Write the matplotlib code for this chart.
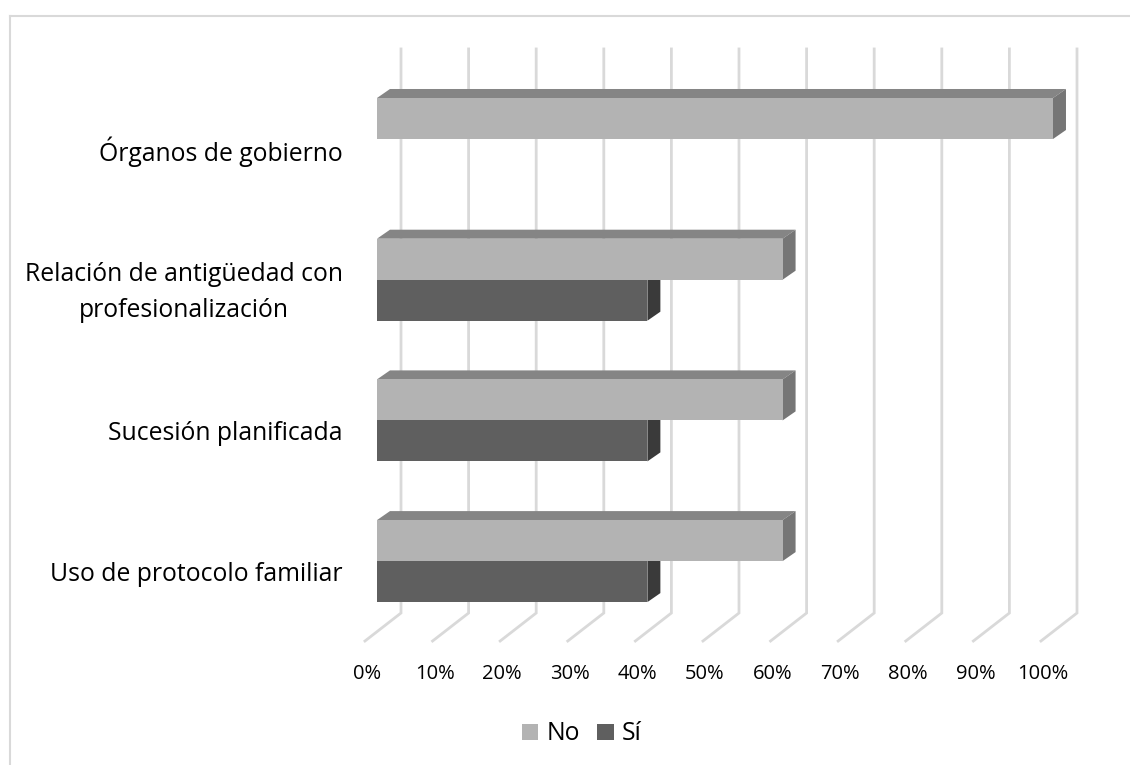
import matplotlib.pyplot as plt
from matplotlib.patches import Polygon, Patch
from matplotlib.lines import Line2D

categories = ['Órganos de gobierno',
              'Relación de antigüedad con\nprofesionalización',
              'Sucesión planificada',
              'Uso de protocolo familiar']
no_values = [100, 60, 60, 60]
si_values = [0, 40, 40, 40]
ticks = [0, 10, 20, 30, 40, 50, 60, 70, 80, 90, 100]

# faces: front, top, side
no_colors = ('#b3b3b3', '#858585', '#767676')
si_colors = ('#5f5f5f', '#4a4a4a', '#3a3a3a')
grid_color = '#d9d9d9'

plt.rcParams['font.family'] = ['Open Sans', 'DejaVu Sans']
fs_tick = 14.5
fs_label = 17.8

fig = plt.figure(figsize=(11.3, 7.65), dpi=100)
ax = fig.add_axes([0, 0, 1, 1])
ax.set_xlim(-377 / 6.76, (1130 - 377) / 6.76)
ax.set_ylim((765 - 139) / 140.7, -139 / 140.7)
ax.axis('off')

bh = 0.2914          # bar thickness in category units
bdx, bdy = 1.92, -0.064   # bar depth
wall_dx = 3.55       # back wall offset in x
wall_top, wall_bot, floor_front = -0.64, 3.369, 3.568
floor_dx = -1.78

# back wall and floor grid
for t in ticks:
    xb = t + wall_dx
    xf = t + floor_dx
    ax.plot([xb, xb, xf], [wall_top, wall_bot, floor_front], color=grid_color,
            lw=2, solid_joinstyle='miter', zorder=1)
    ax.text(xf + 0.3, 3.805, str(t) + '%', ha='center', va='center', fontsize=fs_tick,
            color='#000000')


def draw_bar(y_top, v, colors):
    if v == 0:
        return
    ax.barh(y_top, v, height=bh, left=0, align='edge', color=colors[0],
            edgecolor='none', zorder=3)
    top = Polygon([(0, y_top), (bdx, y_top + bdy), (v + bdx, y_top + bdy), (v, y_top)],
                  closed=True, facecolor=colors[1], edgecolor='none', zorder=2)
    side = Polygon([(v, y_top), (v + bdx, y_top + bdy), (v + bdx, y_top + bh + bdy),
                    (v, y_top + bh)], closed=True, facecolor=colors[2],
                   edgecolor='none', zorder=2)
    ax.add_patch(top)
    ax.add_patch(side)


for i, cat in enumerate(categories):
    draw_bar(i, si_values[i], si_colors)
    draw_bar(i - bh, no_values[i], no_colors)
    ax.text(-5.03, i + 0.092, cat, ha='right', va='center', multialignment='center',
            fontsize=fs_label, linespacing=1.6, color='#000000')

# chart border (left and top edges)
fig.add_artist(Line2D([9.5 / 1130, 9.5 / 1130], [0, 1 - 15.5 / 765],
                      transform=fig.transFigure, color=grid_color, lw=1.5))
fig.add_artist(Line2D([9.5 / 1130, 1], [1 - 15.5 / 765, 1 - 15.5 / 765],
                      transform=fig.transFigure, color=grid_color, lw=1.5))

handles = [Patch(facecolor=no_colors[0], label='No'),
           Patch(facecolor=si_colors[0], label='Sí')]
fig.legend(handles=handles, loc='center', bbox_to_anchor=(582 / 1130, 1 - 734 / 765),
           ncol=2, frameon=False, fontsize=fs_label, handlelength=0.65, handleheight=0.65,
           handletextpad=0.35, columnspacing=0.7)

fig.savefig('out.png', dpi=100)
